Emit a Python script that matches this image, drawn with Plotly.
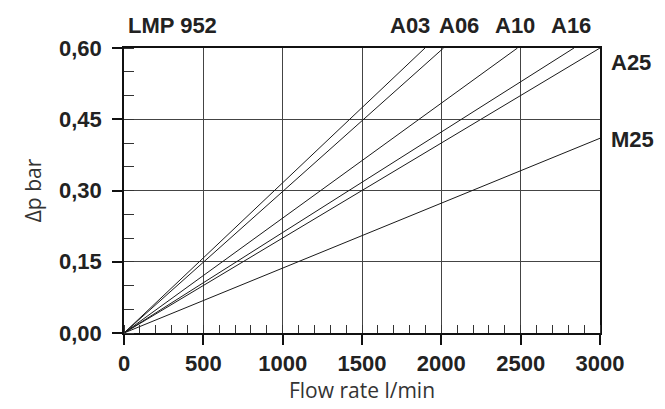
import plotly.graph_objects as go

# Series: straight pressure-drop lines from origin to where they leave the chart
series_names = ["A03", "A06", "A10", "A16", "A25", "M25"]
flow_end = [1897, 2014, 2480, 2836, 3000, 3000]      # l/min
dp_end = [0.60, 0.60, 0.60, 0.60, 0.60, 0.41]        # bar

x_ticks = [0, 500, 1000, 1500, 2000, 2500, 3000]
y_ticks = [0.00, 0.15, 0.30, 0.45, 0.60]
y_tick_labels = ["0,00", "0,15", "0,30", "0,45", "0,60"]

top_labels = ["A03", "A06", "A10", "A16"]
top_label_x = [1800, 2110, 2465, 2815]
right_labels = ["A25", "M25"]
right_label_y = [0.57, 0.408]

fig = go.Figure()
for name, fx, dy in zip(series_names, flow_end, dp_end):
    fig.add_trace(go.Scatter(
        x=[0, fx], y=[0, dy], mode="lines", name=name,
        line=dict(color="#1a1a1a", width=1), showlegend=False,
        hoverinfo="skip"))

tick_font = dict(family="Liberation Sans, Arial, sans-serif", size=22,
                 color="#222", weight="bold")
bold_font = dict(family="Liberation Sans, Arial, sans-serif", size=22,
                 color="#222", weight="bold")
title_font = dict(family="Open Sans, sans-serif", size=21, color="#333")

fig.update_layout(
    width=665, height=409,
    margin=dict(l=124, r=65, t=48, b=76),
    paper_bgcolor="white", plot_bgcolor="white",
    xaxis=dict(
        range=[0, 3000], tickvals=x_ticks, ticktext=[str(v) for v in x_ticks],
        showgrid=True, gridcolor="#444", gridwidth=1,
        showline=True, linecolor="#111", linewidth=1.5, mirror=True,
        ticks="outside", ticklen=10, tickwidth=1.5, tickcolor="#111",
        tickfont=tick_font, zeroline=False,
        minor=dict(dtick=100, ticks="inside", ticklen=8, tickwidth=1,
                   tickcolor="#333", showgrid=False),
        title=dict(text="Flow rate l/min", font=title_font, standoff=6),
    ),
    yaxis=dict(
        range=[0, 0.60], tickvals=y_ticks, ticktext=y_tick_labels,
        showgrid=True, gridcolor="#444", gridwidth=1,
        showline=True, linecolor="#111", linewidth=1.5, mirror=True,
        ticks="outside", ticklen=10, tickwidth=1.5, tickcolor="#111",
        tickfont=tick_font, zeroline=False, ticklabelstandoff=6,
        minor=dict(dtick=0.05, ticks="inside", ticklen=10, tickwidth=1,
                   tickcolor="#333", showgrid=False),
        title=dict(text="Δp bar", font=title_font, standoff=12),
    ),
)

annotations = [dict(x=0, y=1, xref="x", yref="paper", text="LMP 952",
                    showarrow=False, xanchor="left", yanchor="middle",
                    font=bold_font, xshift=2, yshift=23)]
for t, xv in zip(top_labels, top_label_x):
    annotations.append(dict(x=xv, y=1, xref="x", yref="paper", text=t,
                            showarrow=False, xanchor="center", yanchor="middle",
                            font=bold_font, yshift=23))
for t, yv in zip(right_labels, right_label_y):
    annotations.append(dict(x=1, y=yv, xref="paper", yref="y", text=t,
                            showarrow=False, xanchor="left", yanchor="middle",
                            font=bold_font, xshift=9))
fig.update_layout(annotations=annotations)

fig.write_html("out.html")
